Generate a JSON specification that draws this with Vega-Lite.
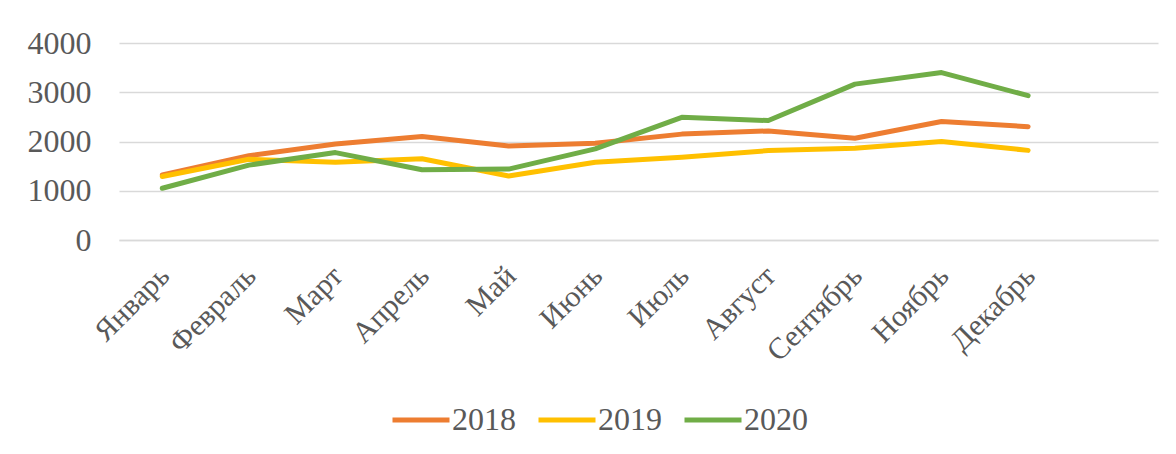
{
  "$schema": "https://vega.github.io/schema/vega-lite/v6.json",
  "width": 1039,
  "height": 197,
  "autosize": "none",
  "padding": {"left": 119, "top": 43, "right": 18, "bottom": 214},
  "background": "white",
  "data": {
    "values": [
      {"month": "Январь", "year": "2018", "value": 1320},
      {"month": "Февраль", "year": "2018", "value": 1710},
      {"month": "Март", "year": "2018", "value": 1950},
      {"month": "Апрель", "year": "2018", "value": 2100},
      {"month": "Май", "year": "2018", "value": 1910},
      {"month": "Июнь", "year": "2018", "value": 1965},
      {"month": "Июль", "year": "2018", "value": 2150},
      {"month": "Август", "year": "2018", "value": 2215},
      {"month": "Сентябрь", "year": "2018", "value": 2065},
      {"month": "Ноябрь", "year": "2018", "value": 2405},
      {"month": "Декабрь", "year": "2018", "value": 2300},
      {"month": "Январь", "year": "2019", "value": 1290},
      {"month": "Февраль", "year": "2019", "value": 1640},
      {"month": "Март", "year": "2019", "value": 1580},
      {"month": "Апрель", "year": "2019", "value": 1650},
      {"month": "Май", "year": "2019", "value": 1300},
      {"month": "Июнь", "year": "2019", "value": 1580},
      {"month": "Июль", "year": "2019", "value": 1680},
      {"month": "Август", "year": "2019", "value": 1815},
      {"month": "Сентябрь", "year": "2019", "value": 1865},
      {"month": "Ноябрь", "year": "2019", "value": 2000},
      {"month": "Декабрь", "year": "2019", "value": 1820},
      {"month": "Январь", "year": "2020", "value": 1050},
      {"month": "Февраль", "year": "2020", "value": 1520},
      {"month": "Март", "year": "2020", "value": 1775},
      {"month": "Апрель", "year": "2020", "value": 1425},
      {"month": "Май", "year": "2020", "value": 1440},
      {"month": "Июнь", "year": "2020", "value": 1850},
      {"month": "Июль", "year": "2020", "value": 2490},
      {"month": "Август", "year": "2020", "value": 2425},
      {"month": "Сентябрь", "year": "2020", "value": 3165},
      {"month": "Ноябрь", "year": "2020", "value": 3400},
      {"month": "Декабрь", "year": "2020", "value": 2930}
    ]
  },
  "mark": {"type": "line", "strokeWidth": 5, "strokeCap": "round", "strokeJoin": "round"},
  "encoding": {
    "x": {
      "field": "month",
      "type": "ordinal",
      "sort": null,
      "scale": {
        "type": "point",
        "padding": 0.5,
        "domain": ["Январь", "Февраль", "Март", "Апрель", "Май", "Июнь", "Июль", "Август", "Сентябрь", "Ноябрь", "Декабрь", " "]
      },
      "axis": {
        "title": null,
        "labelAngle": -45,
        "labelAlign": "right",
        "labelBaseline": "middle",
        "labelFontSize": 30,
        "labelColor": "#595959",
        "labelPadding": 31,
        "labelOffset": 2,
        "labelOverlap": false,
        "ticks": false,
        "domainColor": "#d9d9d9",
        "domainWidth": 1.5,
        "grid": false
      }
    },
    "y": {
      "field": "value",
      "type": "quantitative",
      "scale": {"domain": [0, 4000], "nice": false},
      "axis": {
        "title": null,
        "values": [0, 1000, 2000, 3000, 4000],
        "format": "d",
        "domain": false,
        "ticks": false,
        "labelFontSize": 32,
        "labelColor": "#595959",
        "labelPadding": 28,
        "gridColor": "#d9d9d9",
        "gridWidth": 1.5
      }
    },
    "color": {
      "field": "year",
      "type": "nominal",
      "scale": {"domain": ["2018", "2019", "2020"], "range": ["#ED7D31", "#FFC000", "#70AD47"]},
      "legend": {
        "title": null,
        "orient": "none",
        "legendX": 271,
        "legendY": 346,
        "direction": "horizontal",
        "symbolType": "stroke",
        "symbolSize": 3249,
        "symbolStrokeWidth": 5,
        "labelFontSize": 32,
        "labelColor": "#595959",
        "labelOffset": 0,
        "columnPadding": 12,
        "padding": 0
      }
    }
  },
  "config": {"view": {"stroke": null}, "font": "Liberation Serif"}
}
